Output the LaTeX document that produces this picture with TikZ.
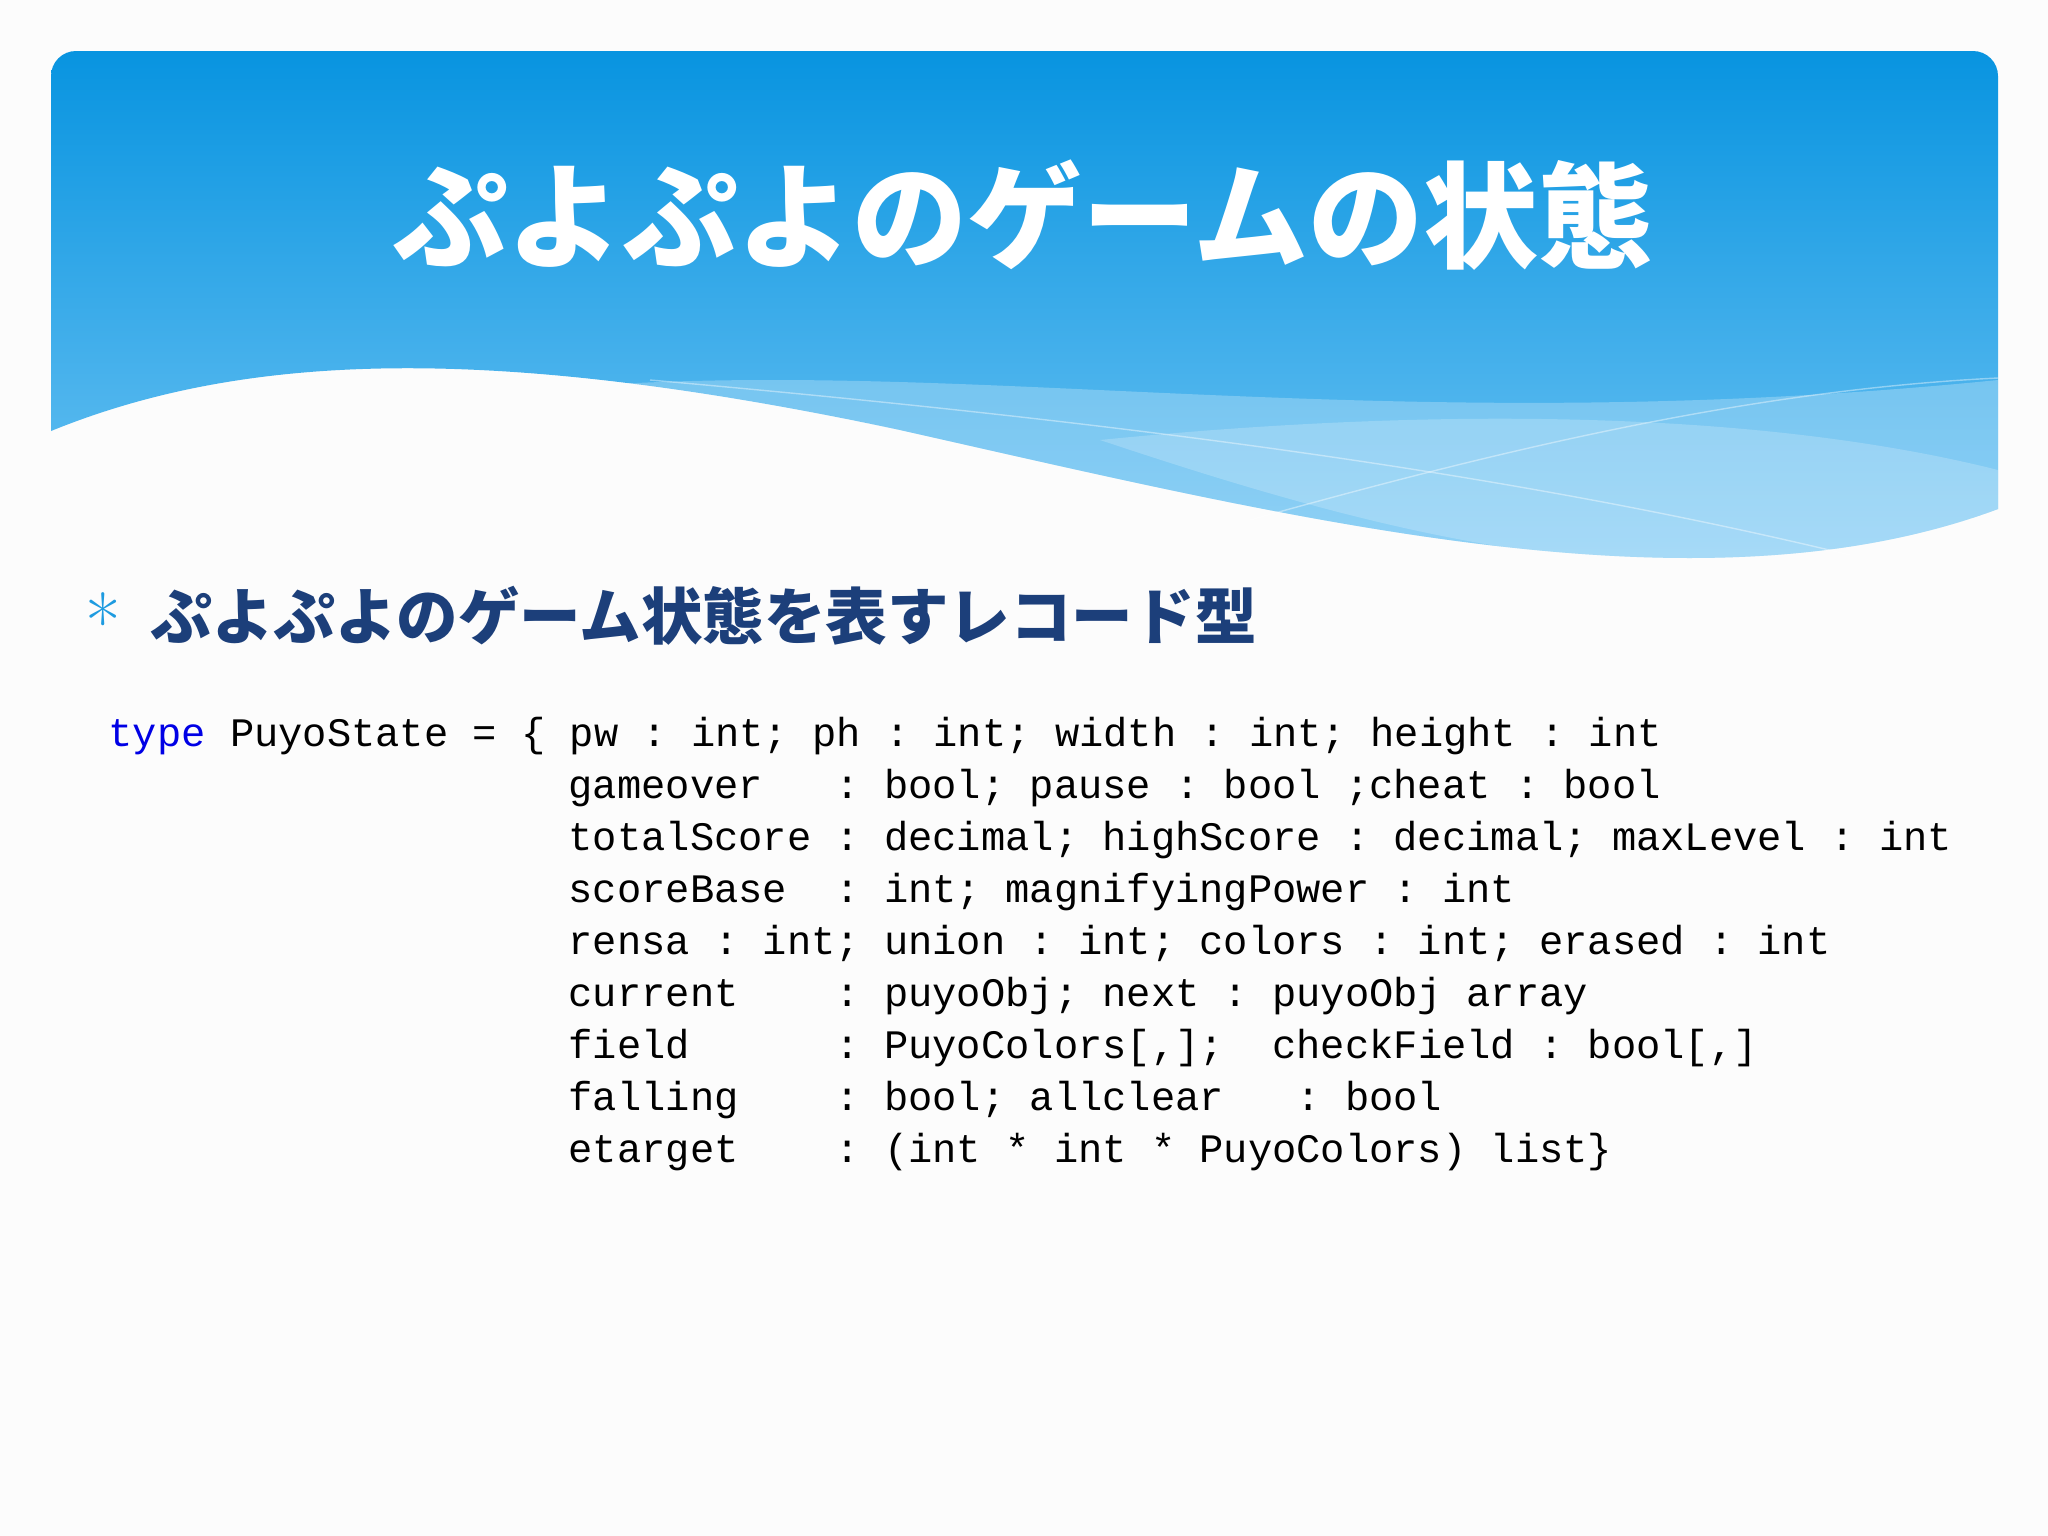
\documentclass[tikz,border=0pt]{standalone}
\usepackage{fontspec}
\setmonofont{Liberation Mono}
\newfontfamily\cjk{Noto Sans CJK JP}
\begin{document}
\begin{tikzpicture}[x=0.01cm,y=-0.01cm,
  codeline/.style={anchor=base west,inner sep=0pt,font=\ttfamily\fontsize{11.5pt}{12pt}\selectfont}]
\useasboundingbox (0,0) rectangle (2048,1536);
\fill[white!98!gray] (0,0) rectangle (2048,1536);
% header
\shade[top color={rgb,255:red,8;green,148;blue,224}, bottom color={rgb,255:red,120;green,200;blue,245}]
  (51,431) [rounded corners=0.25cm] -- (51,51) -- (1998,51) [sharp corners] -- (1998,509)
  .. controls (1700,620) and (1300,520) .. (900,430)
  .. controls (500,345) and (250,350) .. (51,431) -- cycle;
\fill[white,opacity=0.25] (600,385) .. controls (1000,360) and (1400,440) .. (1998,380)
  -- (1998,509) .. controls (1700,620) and (1300,520) .. (900,430) .. controls (800,410) and (700,395) .. (600,385) -- cycle;
\fill[white,opacity=0.2] (1100,440) .. controls (1500,400) and (1800,420) .. (1998,470)
  -- (1998,509) .. controls (1700,620) and (1400,540) .. (1100,440) -- cycle;
\draw[white,opacity=0.4] (650,380) .. controls (1100,420) and (1500,470) .. (1850,555);
\draw[white,opacity=0.4] (1250,520) .. controls (1500,450) and (1750,390) .. (1998,378);
\node[text=white,font=\cjk\fontsize{32.7pt}{36pt}\selectfont\bfseries] (title) at (1023,215) {ぷよぷよのゲームの状態};
% bullet
\node[text={rgb,255:red,30;green,155;blue,224},font=\fontsize{22pt}{22pt}\selectfont] (bul) at (103,622) {*};
\node[anchor=west,inner sep=0pt,text={rgb,255:red,28;green,63;blue,122},font=\cjk\fontsize{17.5pt}{20pt}\selectfont\bfseries] (sub) at (150,616) {ぷよぷよのゲーム状態を表すレコード型};
% code
\node[codeline] (l1) at (108,746) {\textcolor[rgb]{0,0,0.9}{type}~PuyoState~=~\{~pw~:~int;~ph~:~int;~width~:~int;~height~:~int};
\node[codeline] (l2) at (568,798) {gameover~~~:~bool;~pause~:~bool~;cheat~:~bool};
\node[codeline] (l3) at (568,850) {totalScore~:~decimal;~highScore~:~decimal;~maxLevel~:~int};
\node[codeline] (l4) at (568,902) {scoreBase~~:~int;~magnifyingPower~:~int};
\node[codeline] (l5) at (568,954) {rensa~:~int;~union~:~int;~colors~:~int;~erased~:~int};
\node[codeline] (l6) at (568,1006) {current~~~~:~puyoObj;~next~:~puyoObj~array};
\node[codeline] (l7) at (568,1058) {field~~~~~~:~PuyoColors[,];~~checkField~:~bool[,]};
\node[codeline] (l8) at (568,1110) {falling~~~~:~bool;~allclear~~~:~bool};
\node[codeline] (l9) at (568,1162) {etarget~~~~:~(int~*~int~*~PuyoColors)~list\}};
\end{tikzpicture}
\end{document}
